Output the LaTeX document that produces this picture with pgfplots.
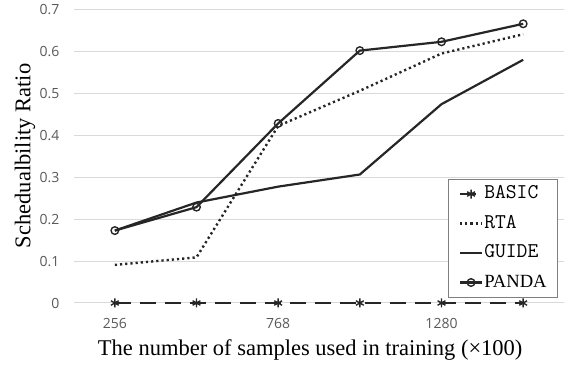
\documentclass[border=0pt]{standalone}
\usepackage{pgfplots}
\pgfplotsset{compat=1.18}
\usepackage{fontspec}
\setmainfont{Liberation Serif}
\newfontfamily\tickfont{Open Sans}
\usetikzlibrary{calc,plotmarks}
\definecolor{gridc}{HTML}{D9D9D9}
\definecolor{tickc}{HTML}{595959}
\definecolor{linec}{HTML}{262626}
\definecolor{legc}{HTML}{7F7F7F}
\newcommand{\legtt}[1]{{\ttfamily\fontsize{21}{22}\selectfont #1}}
\begin{document}
\begin{tikzpicture}
\begin{axis}[name=ax, scale only axis, width=490pt, height=293pt,
  xmin=128, xmax=1664, ymin=0, ymax=0.7,
  xtick={256,768,1280}, ytick={0,0.1,0.2,0.3,0.4,0.5,0.6,0.7},
  ymajorgrids, major grid style={gridc, line width=1pt},
  axis line style={draw=none}, major tick length=0pt,
  tick label style={font=\tickfont\fontsize{14}{16}\selectfont, text=tickc},
  /pgf/number format/assume math mode=true,
  /pgf/number format/fixed,
  /pgf/number format/1000 sep={},
  yticklabel style={anchor=east, xshift=-11pt},
  xticklabel style={anchor=north, yshift=-12pt},
  clip=false,
  xlabel={The number of samples used in training (×100)},
  ylabel={Schedualbility Ratio},
  every axis x label/.style={at={(axis description cs:0.482,-0.160)}, anchor=center, font=\fontsize{22.5}{25}\selectfont},
  every axis y label/.style={at={(axis description cs:-0.1,0.502)}, anchor=center, rotate=90, font=\fontsize{22.5}{25}\selectfont},
  legend style={at={(0.988,0.017)}, anchor=south east, draw=legc, line width=1pt, fill=white,
    font=\fontsize{18.6}{20}\selectfont, inner ysep=3.5pt, inner xsep=10pt, row sep=6.5pt,
    nodes={text height=13pt, text depth=4pt, inner ysep=3pt, inner xsep=1pt}},
  legend cell align=left,
  legend image code/.code={\draw[mark repeat=2,mark phase=2,#1] plot coordinates {(0pt,0pt) (11pt,0pt) (22pt,0pt)};},
]
\addplot[linec, line width=2.2pt, dash pattern=on 16pt off 9pt, mark=asterisk, mark size=4.5pt, mark options={solid, line width=1.4pt}]
  coordinates {(256,0) (512,0) (768,0) (1024,0) (1280,0) (1536,0)};
\addlegendentry{\legtt{BASIC}}
\addplot[linec, line width=2.4pt, dash pattern=on 2.2pt off 3pt]
  coordinates {(256,0.091) (512,0.109) (768,0.423) (1024,0.507) (1280,0.596) (1536,0.642)};
\addlegendentry{\legtt{RTA}}
\addplot[linec, line width=2.2pt]
  coordinates {(256,0.173) (512,0.240) (768,0.278) (1024,0.307) (1280,0.475) (1536,0.581)};
\addlegendentry{\legtt{GUIDE}}
\addplot[linec, line width=2.2pt, mark=o, mark size=3.8pt, mark options={fill=white, line width=1.4pt}]
  coordinates {(256,0.173) (512,0.229) (768,0.429) (1024,0.603) (1280,0.624) (1536,0.667)};
\addlegendentry{PANDA}
\end{axis}
\pgfresetboundingbox
\path[use as bounding box] ($(ax.south west)+(-74pt,-64pt)$) rectangle ($(ax.north east)+(0pt,10pt)$);
\end{tikzpicture}
\end{document}
